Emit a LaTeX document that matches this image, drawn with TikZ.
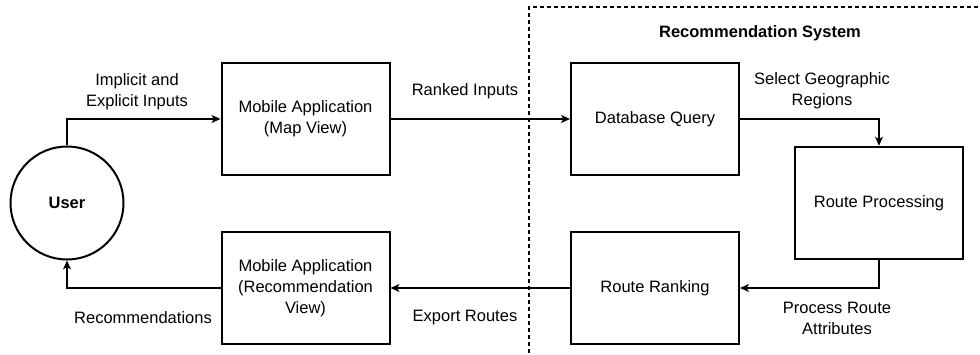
\documentclass[tikz,border=0pt]{standalone}
\usepackage{fontspec}
\setmainfont{Liberation Sans}
\usetikzlibrary{arrows.meta}
\begin{document}
\begin{tikzpicture}[x=1pt,y=-1pt,
  every node/.style={font=\fontsize{16.5}{21}\selectfont, align=center, inner sep=0pt},
  box/.style={draw, line width=2pt, minimum width=168pt, minimum height=112pt},
  thickbox/.style={box, line width=2.6pt},
  usercirc/.style={draw, circle, line width=2pt, minimum size=113pt},
  arr/.style={line width=1.3pt, -{Stealth[length=9pt,width=8pt,inset=2.5pt]}},
  lbl/.style={}]
\useasboundingbox (0,0) rectangle (980,355);
% system boundary
\draw[line width=1.2pt, dash pattern=on 4pt off 3pt] (529,360) -- (529,7) -- (990,7);
\node[font=\fontsize{16.5}{21}\selectfont\bfseries] (systitle) at (760,33) {Recommendation System};
% nodes
\node[usercirc] (user) at (67,203) {\textbf{User}};
\node[box] (map) at (305.5,119) {Mobile Application\\(Map View)};
\node[box] (db) at (655,119) {Database Query};
\node[thickbox] (rp) at (879,203) {Route Processing};
\node[box] (rr) at (655,288) {Route Ranking};
\node[box] (rec) at (305.5,288) {Mobile Application\\(Recommendation\\View)};
% connectors
\draw[arr] (user.north) |- (map.west);
\draw[arr] (map.east) -- (db.west);
\draw[arr] (db.east) -| (rp.north);
\draw[arr] (rp.south) |- (rr.east);
\draw[arr] (rr.west) -- (rec.east);
\draw[arr] (rec.west) -| (user.south);
% labels
\node[lbl] (l1) at (137,91.5) {Implicit and\\Explicit Inputs};
\node[lbl] (l2) at (465,91) {Ranked Inputs};
\node[lbl] (l3) at (822,91) {Select Geographic\\Regions};
\node[lbl] (l4) at (837,318) {Process Route\\Attributes};
\node[lbl] (l5) at (465,318) {Export Routes};
\node[lbl] (l6) at (143,318) {Recommendations};
\end{tikzpicture}
\end{document}
